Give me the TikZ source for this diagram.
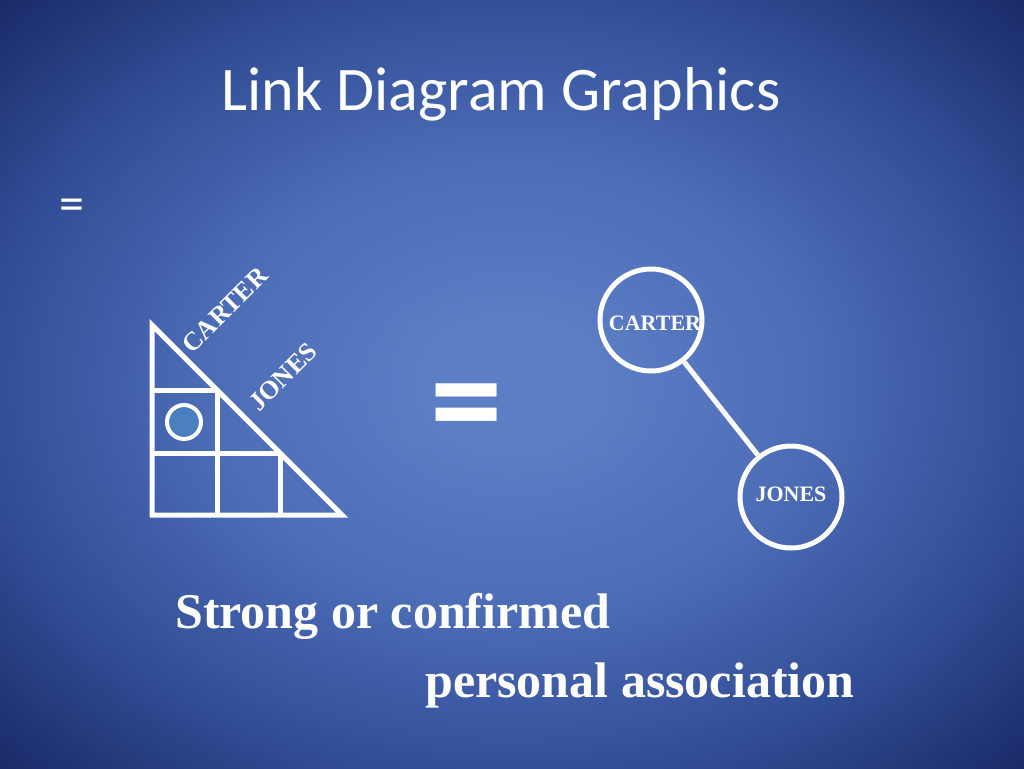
\documentclass[tikz,border=0pt]{standalone}
\usepackage{fontspec}
\setmainfont{Liberation Serif}
\newfontfamily\calibri{Carlito}
\definecolor{bgA}{RGB}{92,126,197}
\definecolor{bgB}{RGB}{76,108,182}
\definecolor{bgC}{RGB}{48,76,148}
\definecolor{bgD}{RGB}{24,40,100}
\definecolor{dotblue}{RGB}{74,128,192}
\pgfdeclareradialshading{slidebg}{\pgfpoint{0bp}{0bp}}{color(0bp)=(bgA); color(4bp)=(bgA); color(15bp)=(bgB); color(26bp)=(bgC); color(36bp)=(bgD); color(50bp)=(bgD)}
\tikzset{
  wline/.style={draw=white, line width=5pt},
  ring/.style={circle, draw=white, line width=5pt, minimum size=102pt, inner sep=0pt},
  smallname/.style={text=white, font=\bfseries\fontsize{22}{26}\selectfont, inner sep=0pt},
  diagname/.style={text=white, font=\bfseries\fontsize{26}{30}\selectfont, inner sep=0pt, rotate=45},
  caption/.style={text=white, font=\bfseries\fontsize{50}{60}\selectfont, inner sep=0pt, anchor=base west},
}
\begin{document}
\begin{tikzpicture}[x=1pt, y=-1pt]
\useasboundingbox (0,0) rectangle (1024,768);
\shade[shading=slidebg] (0,0) rectangle (1024,768);
% title
\node[text=white, font=\calibri\fontsize{62}{74}\selectfont, anchor=base, inner sep=0pt] (title) at (501,110) {Link Diagram Graphics};
% small equals
\node[text=white, font=\calibri\fontsize{50}{60}\selectfont, inner sep=0pt] (eqs) at (72,210) {=};
% triangle
\coordinate (ta) at (152,325);
\coordinate (tb) at (152,515);
\coordinate (tc) at (342,515);
\coordinate (h1l) at (152,390);
\coordinate (h1r) at (217,390);
\coordinate (h2l) at (152,453);
\coordinate (h2r) at (280,453);
\coordinate (v1b) at (217,515);
\coordinate (v2b) at (280,515);
\draw[wline] (ta) -- (tb) -- (tc) -- cycle;
\draw[wline] (h1l) -- (h1r);
\draw[wline] (h2l) -- (h2r);
\draw[wline] (h1r) -- (v1b);
\draw[wline] (h2r) -- (v2b);
\node[circle, draw=white, fill=dotblue, line width=4pt, minimum size=34pt, inner sep=0pt] (dot) at (184,422) {};
\node[diagname] (carterd) at (225,310) {CARTER};
\node[diagname] (jonesd) at (283,377) {JONES};
% big equals
\node[text=white, font=\calibri\bfseries\fontsize{145}{175}\selectfont, inner sep=0pt] (eqb) at (467,416) {=};
% link chart
\node[ring] (c1) at (651,320) {};
\node[ring] (c2) at (791,497) {};
\draw[wline] (c1) -- (c2);
\node[smallname] (t1) at (655,323) {CARTER};
\node[smallname] (t2) at (791,494) {JONES};
% caption
\node[caption] (cap1) at (175,628) {Strong or confirmed};
\node[caption] (cap2) at (425,697) {personal association};
\end{tikzpicture}
\end{document}
